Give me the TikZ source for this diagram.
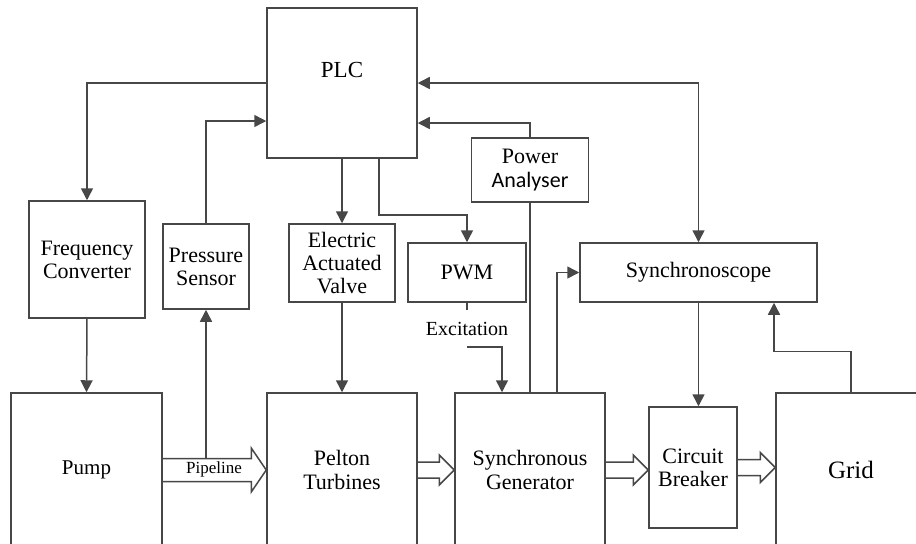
\documentclass[tikz,border=0pt]{standalone}
\usepackage{fontspec}
\setmainfont{Liberation Serif}
\setsansfont{Carlito}
\usetikzlibrary{calc,arrows.meta}

\colorlet{linegray}{black!72}

\tikzset{
  box/.style={draw=linegray, line width=0.75pt, align=center, inner sep=0pt,
    font=\rmfamily\fontsize{11}{11.6}\selectfont},
  sig/.style={draw=linegray, line width=0.75pt, -{Triangle[length=6pt,width=6pt]}},
  pipe/.style={draw=linegray, line width=0.75pt, line join=miter},
}

% hollow flow arrow: from, to, half shaft, half head
\newcommand{\pipe}[4]{%
  \path (#2.west |- #1.east) coordinate (tip);
  \draw[pipe] ($(#1.east)+(0,-#3)$) -- ($(tip)+(-15,-#3)$) -- ($(tip)+(-15,-#4)$)
    -- (tip) -- ($(tip)+(-15,#4)$) -- ($(tip)+(-15,#3)$) -- ($(#1.east)+(0,#3)$);
}

\begin{document}
\begin{tikzpicture}[x=0.5pt, y=-0.5pt]
\useasboundingbox (0,0) rectangle (916,543);
\clip (0,0) rectangle (916,543);

% control part
\node[box, minimum width=75pt, minimum height=75pt, text depth=13pt,
  font=\rmfamily\fontsize{11.5}{13}\selectfont] (plc) at (342,83) {PLC};
\node[box, minimum width=58pt, minimum height=58.5pt] (fc) at (87,259.5) {Frequency\\Converter};
\node[box, minimum width=43pt, minimum height=42.5pt] (ps) at (206,266.5) {Pressure\\Sensor};
\node[box, minimum width=53pt, minimum height=39pt] (valve) at (342,263) {Electric\\Actuated\\Valve};
\node[box, minimum width=59pt, minimum height=29.5pt] (pwm) at (467,272.5) {PWM};
\node[box, minimum width=58.5pt, minimum height=32pt] (pa) at (530,170) {Power\\{\sffamily Analyser}};
\node[box, minimum width=118.5pt, minimum height=29.5pt] (sy) at (698.5,272.5) {Synchronoscope};

% power part
\node[box, minimum width=75.5pt, minimum height=77pt, font=\rmfamily\fontsize{10.5}{12}\selectfont] (pump) at (86.5,470) {Pump};
\node[box, minimum width=75pt, minimum height=77pt] (pe) at (342,470) {Pelton\\Turbines};
\node[box, minimum width=75pt, minimum height=77pt] (sg) at (530,470) {Synchronous\\Generator};
\node[box, minimum width=44pt, minimum height=60.5pt] (cb) at (693,467.5) {Circuit\\Breaker};
\node[box, minimum width=75pt, minimum height=77pt, font=\rmfamily\fontsize{12.5}{14}\selectfont] (grid) at (851,470) {Grid};

\pipe{pump}{pe}{11.5}{22}
\pipe{pe}{sg}{8}{15}
\pipe{sg}{cb}{8}{15}
\pipe{cb}{grid}{8}{15}
\node[font=\rmfamily\fontsize{8.5}{10}\selectfont, inner sep=0pt] (pl) at (214,469) {Pipeline};
\coordinate (tap) at (206,458);

\node[font=\rmfamily\fontsize{10}{12}\selectfont, inner sep=0pt, minimum height=18pt] (exc) at (467,328.5) {Excitation};

% signals
\draw[sig] (plc.west) -| (fc.north);
\draw[sig] (fc.south) -- (pump.north);
\draw[sig] (tap) -- (ps.south);
\draw[sig] (ps.north) |- ($(plc.west)+(0,38)$);
\draw[sig] (plc.south) -- (valve.north);
\draw[sig] (valve.south) -- (pe.north);
\draw[sig] ($(plc.south)+(37,0)$) -- ++(0,56) -| (pwm.north);
\draw[draw=linegray, line width=0.75pt] (pwm.south) -- (exc.north);
\draw[sig] (exc.south) -| ($(sg.north)+(-28,0)$);
\draw[draw=linegray, line width=0.75pt] (sg.north) -- (pa.south);
\draw[sig] (pa.north) |- ($(plc.east)+(0,40)$);
\draw[sig, {Triangle[length=6pt,width=6pt]}-{Triangle[length=6pt,width=6pt]}] (plc.east) -| (sy.north);
\draw[sig] ($(sg.north)+(27,0)$) |- (sy.west);
\draw[sig] (sy.south) -- (sy.south |- cb.north);
\draw[sig] (grid.north) -- ++(0,-41) -| ($(sy.south)+(75.5,0)$);
\end{tikzpicture}
\end{document}
